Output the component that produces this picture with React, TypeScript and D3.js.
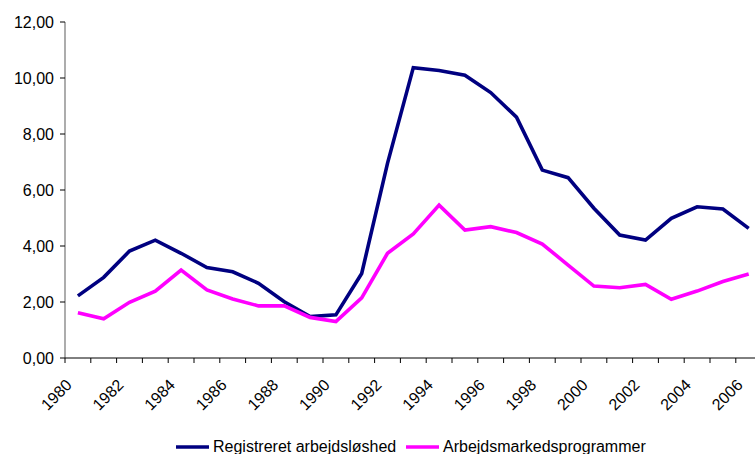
import React from "react";
import * as d3 from "d3";

const years: number[] = d3.range(1980, 2007);
const registreret: number[] = [
  2.22, 2.88, 3.82, 4.21, 3.74, 3.23, 3.08, 2.67, 2.01, 1.48, 1.54, 3.02,
  6.95, 10.37, 10.27, 10.1, 9.48, 8.6, 6.71, 6.44, 5.35, 4.39, 4.21, 4.99,
  5.4, 5.32, 4.63,
];
const programmer: number[] = [
  1.62, 1.4, 1.99, 2.39, 3.14, 2.43, 2.11, 1.86, 1.86, 1.45, 1.3, 2.15, 3.74,
  4.43, 5.46, 4.57, 4.69, 4.48, 4.07, 3.32, 2.57, 2.51, 2.63, 2.1, 2.39, 2.73,
  3.0,
];
const yTicks: number[] = [0, 2, 4, 6, 8, 10, 12];
const seriesNames: string[] = ["Registreret arbejdsløshed", "Arbejdsmarkedsprogrammer"];
const seriesColors: string[] = ["#000080", "#FF00FF"];

const W = 755;
const H = 454;
const FONT = "'Liberation Sans', Arial, sans-serif";

export default function App() {
  const x = d3
    .scaleBand<number>()
    .domain(years)
    .range([65, 65 + 27 * 25.8])
    .paddingInner(0)
    .paddingOuter(0);
  const y = d3.scaleLinear().domain([0, 12]).range([358, 22]);
  const cx = (yr: number) => (x(yr) as number) + x.bandwidth() / 2;

  const line = d3
    .line<number>()
    .x((_, i) => cx(years[i]))
    .y((d) => y(d));

  const fmt = (v: number) => v.toFixed(2).replace(".", ",");
  const boundaries = years.map((yr) => x(yr) as number).concat([(x(years[years.length - 1]) as number) + x.bandwidth()]);

  const series = [registreret, programmer];
  const legendX = [176, 406];

  return (
    <svg
      width={W}
      height={H}
      style={{ position: "absolute", left: 0, top: 0, background: "#fff" }}
      fontFamily={FONT}
    >
      {/* y axis */}
      <line x1={65} x2={65} y1={y(12)} y2={y(0)} stroke="#808080" strokeWidth={1.3} />
      {yTicks.map((t) => (
        <g key={t}>
          <line x1={60} x2={65} y1={y(t)} y2={y(t)} stroke="#000" strokeWidth={1} />
          <text x={54} y={y(t)} dy="0.35em" textAnchor="end" fontSize={16} fill="#000">
            {fmt(t)}
          </text>
        </g>
      ))}
      {/* x axis */}
      <line x1={65} x2={W + 10} y1={y(0)} y2={y(0)} stroke="#000" strokeWidth={1} />
      {boundaries.map((b, i) => (
        <line key={i} x1={b} x2={b} y1={y(0)} y2={y(0) + 5} stroke="#000" strokeWidth={1} />
      ))}
      {years
        .filter((yr) => yr % 2 === 0)
        .map((yr) => (
          <text
            key={yr}
            transform={`translate(${cx(yr) - 5},${386}) rotate(-45)`}
            textAnchor="end"
            fontSize={16}
            fill="#000"
          >
            {yr}
          </text>
        ))}
      {/* lines */}
      {series.map((s, i) => (
        <path
          key={i}
          d={line(s) || ""}
          fill="none"
          stroke={seriesColors[i]}
          strokeWidth={3.6}
          strokeLinejoin="miter"
        />
      ))}
      {/* legend */}
      {seriesNames.map((n, i) => (
        <g key={n}>
          <line x1={legendX[i]} x2={legendX[i] + 33} y1={447} y2={447} stroke={seriesColors[i]} strokeWidth={3.6} />
          <text x={legendX[i] + 37} y={452} fontSize={16} fill="#000">
            {n}
          </text>
        </g>
      ))}
    </svg>
  );
}
